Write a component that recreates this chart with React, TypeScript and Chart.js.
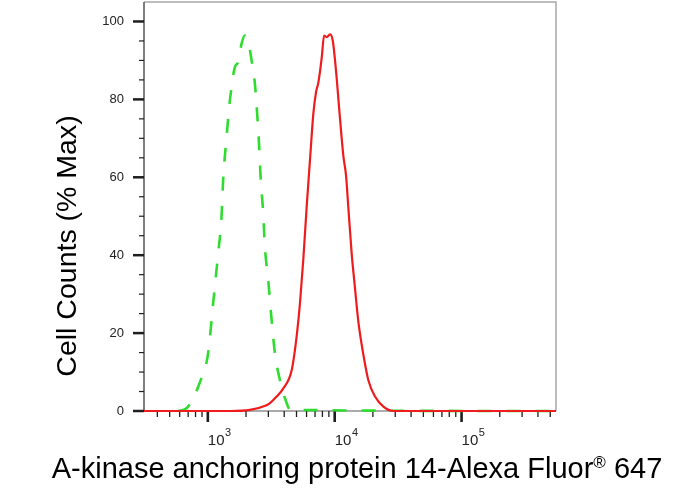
import React, { useEffect, useRef } from 'react';
import { Chart, registerables } from 'chart.js';

Chart.register(...registerables);

const FONT = '"Liberation Sans", Arial, Helvetica, sans-serif';

// axis limits
const xRange = [314, 555000];
const yRange = [0, 105];

// tick positions and labels
const xMajorTicks = [1000, 10000, 100000];
const xMajorBase = '10';
const xMajorExponents = ['3', '4', '5'];
const xMinorTicks = [
  400, 500, 600, 700, 800, 900,
  2000, 3000, 4000, 5000, 6000, 7000, 8000, 9000,
  20000, 30000, 40000, 50000, 60000, 70000, 80000, 90000,
  200000, 300000, 400000, 500000,
];
const yMajorTicks = [0, 20, 40, 60, 80, 100];
const yMinorTicks = [5, 10, 15, 25, 30, 35, 45, 50, 55, 65, 70, 75, 85, 90, 95];

// isotype control (green dashed)
const controlX = [582, 679, 869, 1005, 1101, 1206, 1282, 1320, 1405, 1492, 1634, 1734, 1845, 1959, 2080, 2213, 2350, 2449, 2541, 2606, 2733, 2818, 2993, 3184, 3381, 3705, 4185, 4446, 555000];
const controlY = [0, 0.7, 7.5, 14.8, 27.6, 40.4, 49.8, 59.2, 70.3, 79.7, 88.3, 89.6, 94.3, 96.4, 95.1, 90, 84, 76.3, 67.8, 60.1, 50.7, 42.1, 33.6, 23.3, 14.8, 7.9, 2, 0.3, 0];

// stained sample (red)
const sampleX = [314, 1492, 2146, 2907, 3087, 3486, 3936, 4584, 5018, 5329, 5656, 6018, 6391, 6785, 7129, 7432, 7907, 8245, 8660, 9190, 9650, 10240, 10874, 11700, 12280, 12800, 13610, 14450, 15350, 16820, 18420, 20800, 24200, 29000, 555000];
const sampleY = [0, 0, 0.3, 1.5, 2, 3.7, 5.8, 10.5, 19.3, 27.8, 38.9, 52.6, 64.6, 76.3, 81.9, 84.3, 90.8, 96.4, 96, 96.7, 95.1, 87.4, 77.2, 65.5, 60.5, 52.4, 40.4, 31.6, 23, 14.5, 7.9, 3.7, 1.1, 0, 0];

const xTitle = 'A-kinase anchoring protein 14-Alexa Fluor';
const xTitleMark = '®';
const xTitleTail = ' 647';
const yTitle = 'Cell Counts (% Max)';

const axesPlugin = {
  id: 'flowAxes',
  beforeDatasetsDraw(chart: any) {
    const { ctx, chartArea: a, scales } = chart;
    const x = scales.x;
    const y = scales.y;
    ctx.save();
    ctx.lineCap = 'butt';

    // light frame top / right
    ctx.strokeStyle = '#a8a8a8';
    ctx.lineWidth = 1.5;
    ctx.beginPath();
    ctx.moveTo(a.left, a.top);
    ctx.lineTo(a.right, a.top);
    ctx.lineTo(a.right, a.bottom);
    ctx.stroke();

    // left axis
    ctx.strokeStyle = '#555';
    ctx.beginPath();
    ctx.moveTo(a.left, a.top);
    ctx.lineTo(a.left, a.bottom);
    ctx.stroke();

    // bottom axis
    ctx.strokeStyle = '#8f8f8f';
    ctx.beginPath();
    ctx.moveTo(a.left, a.bottom);
    ctx.lineTo(a.right, a.bottom);
    ctx.stroke();

    ctx.strokeStyle = '#1e1e1e';
    yMinorTicks.forEach((v) => {
      const py = y.getPixelForValue(v);
      ctx.lineWidth = 1.2;
      ctx.beginPath();
      ctx.moveTo(a.left - 5, py);
      ctx.lineTo(a.left, py);
      ctx.stroke();
    });
    yMajorTicks.forEach((v) => {
      const py = y.getPixelForValue(v);
      ctx.lineWidth = 2.5;
      ctx.beginPath();
      ctx.moveTo(a.left - 11, py);
      ctx.lineTo(a.left, py);
      ctx.stroke();
    });
    xMinorTicks.forEach((v) => {
      const px = x.getPixelForValue(v);
      ctx.lineWidth = 1.3;
      ctx.beginPath();
      ctx.moveTo(px, a.bottom);
      ctx.lineTo(px, a.bottom + 6);
      ctx.stroke();
    });
    xMajorTicks.forEach((v) => {
      const px = x.getPixelForValue(v);
      ctx.lineWidth = 2.6;
      ctx.beginPath();
      ctx.moveTo(px, a.bottom);
      ctx.lineTo(px, a.bottom + 11);
      ctx.stroke();
    });
    ctx.restore();
  },
  afterDraw(chart: any) {
    const { ctx, chartArea: a, scales } = chart;
    ctx.save();
    ctx.fillStyle = '#000';
    ctx.textBaseline = 'alphabetic';
    ctx.textAlign = 'left';

    // decade labels 10^n
    ctx.fillStyle = '#222';
    xMajorTicks.forEach((v, i) => {
      const px = scales.x.getPixelForValue(v);
      ctx.font = `15px ${FONT}`;
      ctx.fillText(xMajorBase, px, a.bottom + 34);
      const w = ctx.measureText(xMajorBase).width;
      ctx.font = `11px ${FONT}`;
      ctx.fillText(xMajorExponents[i], px + w + 0.5, a.bottom + 25);
    });

    // x title with superscript ®
    ctx.fillStyle = '#000';
    const big = `29px ${FONT}`;
    const small = `17px ${FONT}`;
    ctx.font = big;
    const w1 = ctx.measureText(xTitle).width;
    const w3 = ctx.measureText(xTitleTail).width;
    ctx.font = small;
    const w2 = ctx.measureText(xTitleMark).width;
    const total = w1 + w2 + w3;
    let tx = (a.left + a.right) / 2 + 7 - total / 2;
    const ty = 478;
    ctx.font = big;
    ctx.fillText(xTitle, tx, ty);
    tx += w1;
    ctx.font = small;
    ctx.fillText(xTitleMark, tx, ty - 10);
    tx += w2;
    ctx.font = big;
    ctx.fillText(xTitleTail, tx, ty);

    // y title
    ctx.translate(76, 246);
    ctx.rotate(-Math.PI / 2);
    ctx.textAlign = 'center';
    ctx.font = `28.5px ${FONT}`;
    ctx.fillText(yTitle, 0, 0);
    ctx.restore();
  },
};

export default function App() {
  const canvasRef = useRef<HTMLCanvasElement>(null);

  useEffect(() => {
    if (!canvasRef.current) return;
    const chart = new Chart(canvasRef.current, {
      type: 'line',
      data: {
        datasets: [
          {
            label: 'Sample',
            data: sampleX.map((v, i) => ({ x: v, y: sampleY[i] })),
            borderColor: '#ee1c1c',
            borderWidth: 2.2,
            pointRadius: 0,
            cubicInterpolationMode: 'monotone',
            fill: false,
            clip: false,
          },
          {
            label: 'Isotype control',
            data: controlX.map((v, i) => ({ x: v, y: controlY[i] })),
            borderColor: '#2fdc2f',
            borderWidth: 2.6,
            borderDash: [14, 15],
            pointRadius: 0,
            cubicInterpolationMode: 'monotone',
            fill: false,
            clip: false,
          },
        ],
      },
      options: {
        animation: false,
        responsive: true,
        maintainAspectRatio: false,
        layout: { padding: { left: 0, top: 2, right: 131, bottom: 0 } },
        plugins: {
          legend: { display: false },
          tooltip: { enabled: false },
        },
        scales: {
          x: {
            type: 'logarithmic',
            min: xRange[0],
            max: xRange[1],
            afterBuildTicks: (scale: any) => {
              scale.ticks = [...xMinorTicks, ...xMajorTicks]
                .sort((p, q) => p - q)
                .map((v) => ({ value: v }));
            },
            afterFit: (scale: any) => {
              scale.height = 83;
              scale.paddingLeft = 0;
              scale.paddingRight = 0;
            },
            grid: { display: false, drawTicks: false },
            border: { display: false },
            ticks: { display: false },
          },
          y: {
            min: yRange[0],
            max: yRange[1],
            afterBuildTicks: (scale: any) => {
              scale.ticks = [...yMajorTicks, ...yMinorTicks]
                .sort((p, q) => p - q)
                .map((v) => ({ value: v }));
            },
            afterFit: (scale: any) => {
              scale.width = 144;
              scale.paddingTop = 0;
              scale.paddingBottom = 0;
            },
            grid: { display: false, drawTicks: false },
            border: { display: false },
            ticks: {
              autoSkip: false,
              padding: 20,
              color: '#222',
              font: { family: FONT, size: 13 },
              callback: (v: any) => (yMajorTicks.includes(Number(v)) ? String(v) : ''),
            },
          },
        },
      },
      plugins: [axesPlugin],
    } as any);
    return () => chart.destroy();
  }, []);

  return (
    <div style={{ position: 'absolute', left: 0, top: 0, width: 687, height: 494, background: '#fff' }}>
      <canvas ref={canvasRef} />
    </div>
  );
}
